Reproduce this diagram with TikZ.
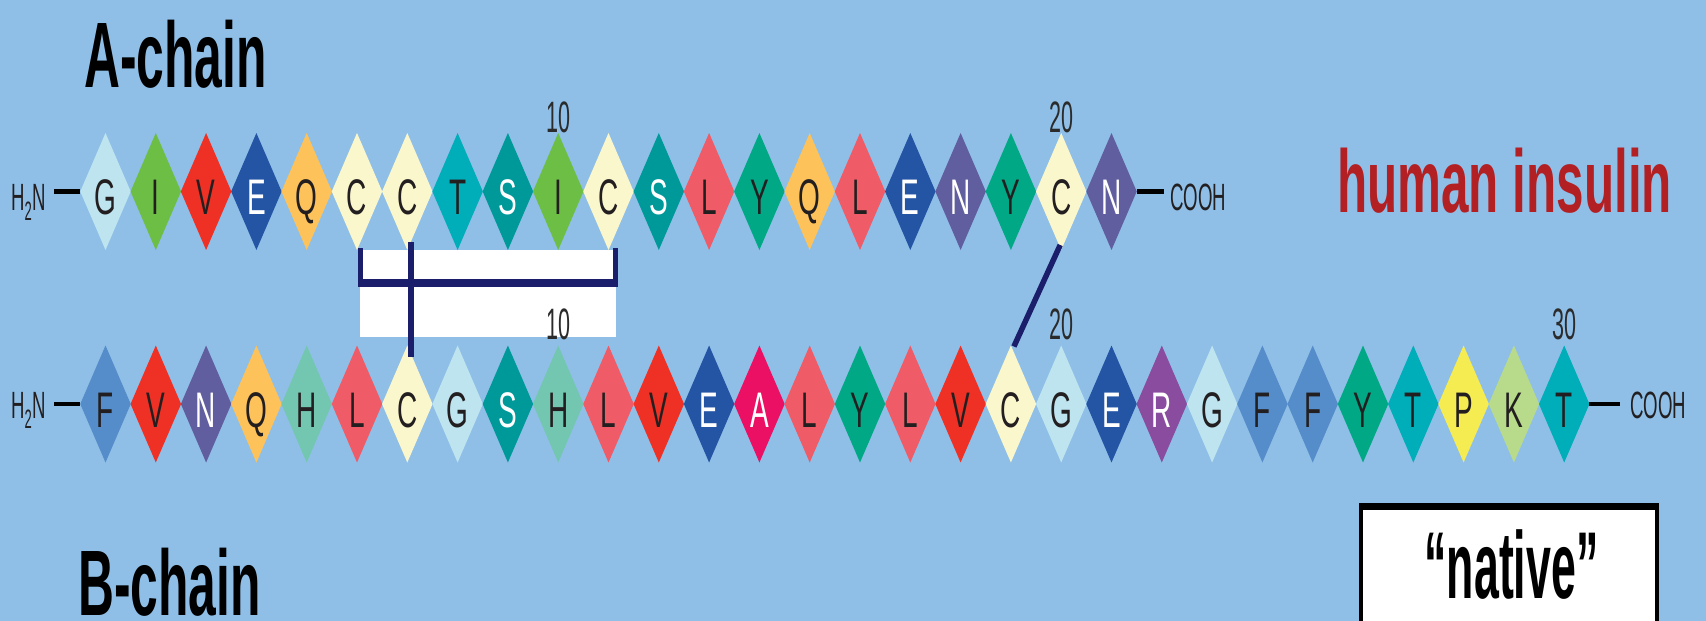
\documentclass[tikz,border=0pt]{standalone}
\usepackage{fontspec}
\usetikzlibrary{shapes.geometric,calc}
\newfontfamily\cnd[FakeStretch=0.49]{Liberation Sans}
\newfontfamily\cndr[FakeStretch=0.56]{Liberation Sans}
\newfontfamily\cndt[FakeStretch=0.47]{Liberation Sans}
\newfontfamily\cnda[FakeStretch=0.535]{Liberation Sans}
\newfontfamily\cndh[FakeStretch=0.555]{Liberation Sans}
\definecolor{bg}{HTML}{8FBFE7}
\definecolor{lb}{HTML}{BDE4EF}
\definecolor{gr}{HTML}{6DBE45}
\definecolor{rd}{HTML}{EE3124}
\definecolor{db}{HTML}{2455A5}
\definecolor{or}{HTML}{FDC25A}
\definecolor{cr}{HTML}{FBF7CD}
\definecolor{cy}{HTML}{00AEB9}
\definecolor{dt}{HTML}{00999A}
\definecolor{sa}{HTML}{EF5B66}
\definecolor{em}{HTML}{00A885}
\definecolor{pb}{HTML}{605E9E}
\definecolor{mb}{HTML}{558CCA}
\definecolor{mi}{HTML}{73C6B0}
\definecolor{mg}{HTML}{EC1064}
\definecolor{pu}{HTML}{8A4C9E}
\definecolor{ye}{HTML}{F5EC52}
\definecolor{lg}{HTML}{B7DB8A}
\definecolor{navy}{HTML}{1B1E6B}
\definecolor{titlered}{HTML}{B22024}
\definecolor{txk}{HTML}{231F20}
\definecolor{txw}{HTML}{FFFFFF}
\definecolor{numgrey}{HTML}{2B2B2B}
\begin{document}
\begin{tikzpicture}[x=1pt,y=-1pt,
  res/.style={diamond, shape aspect=0.43, minimum width=50.5pt, minimum height=117pt,
    inner sep=0pt, outer sep=0pt, font=\cndr\fontsize{50}{50}\selectfont,
    text height=46pt, text depth=0pt},
  num/.style={inner sep=0pt, text=numgrey, font=\cnd\fontsize{44}{44}\selectfont},
  term/.style={inner sep=0pt, text=txk, font=\cnd\fontsize{38}{38}\selectfont},
  termline/.style={line width=4.5pt, black},
  title/.style={inner sep=0pt, font=\cnda\bfseries\fontsize{93}{93}\selectfont},
  bondv/.style={line width=5.5pt, navy},
  bondh/.style={line width=8pt, navy}]
\useasboundingbox (0,0) rectangle (1706,621);
\fill[bg] (0,0) rectangle (1706,621);
\begin{scope}
\clip (0,0) rectangle (1706,621);
% white panel between the chains
\fill[white] (360,250) rectangle (616,337);
% A-chain
\foreach \l/\c/\t [count=\i] in {G/lb/txk, I/gr/txk, V/rd/txk, E/db/txw, Q/or/txk,
  C/cr/txk, C/cr/txk, T/cy/txk, S/dt/txw, I/gr/txk, C/cr/txk, S/dt/txw, L/sa/txk,
  Y/em/txk, Q/or/txk, L/sa/txk, E/db/txw, N/pb/txw, Y/em/txk, C/cr/txk, N/pb/txw}{
  \pgfmathsetmacro\xx{105.5+(\i-1)*50.3}
  \node[res, fill=\c, text=\t] (a\i) at (\xx,191.5) {\l};
}
% B-chain
\foreach \l/\c/\t [count=\i] in {F/mb/txk, V/rd/txk, N/pb/txw, Q/or/txk, H/mi/txk,
  L/sa/txk, C/cr/txk, G/lb/txk, S/dt/txw, H/mi/txk, L/sa/txk, V/rd/txk, E/db/txw,
  A/mg/txw, L/sa/txk, Y/em/txk, L/sa/txk, V/rd/txk, C/cr/txk, G/lb/txk, E/db/txw,
  R/pu/txw, G/lb/txk, F/mb/txk, F/mb/txk, Y/em/txk, T/cy/txk, P/ye/txk, K/lg/txk,
  T/cy/txk}{
  \pgfmathsetmacro\xx{105.5+(\i-1)*50.3}
  \node[res, fill=\c, text=\t] (b\i) at (\xx,404) {\l};
}
% position numbers
\node[num, anchor=base] (na10) at ($(a10.north)+(0,-1)$) {10};
\node[num, anchor=base] (na20) at ($(a20.north)+(0,-1)$) {20};
\node[num, anchor=base] (nb10) at ($(b10.north)+(0,-6)$) {10};
\node[num, anchor=base] (nb20) at ($(b20.north)+(0,-6)$) {20};
\node[num, anchor=base] (nb30) at ($(b30.north)+(0,-6)$) {30};
% termini
\node[term, anchor=base west] (h2nA) at (11,210) {H\textsubscript{2}N};
\node[term, anchor=base west] (h2nB) at (11,418.5) {H\textsubscript{2}N};
\node[term, anchor=base west] (cooA) at (1170,210) {COOH};
\node[term, anchor=base west] (cooB) at (1630,418.5) {COOH};
\draw[termline] (h2nA.east |- a1.west) ++(8,0) -- (a1.west);
\draw[termline] (h2nB.east |- b1.west) ++(8,0) -- (b1.west);
\draw[termline] (a21.east) -- ($(cooA.west |- a21.east)+(-6,0)$);
\draw[termline] (b30.east) -- ($(cooB.west |- b30.east)+(-10,0)$);
% disulfide bonds
\coordinate (bl) at ($(a6.south)+(3.5,33)$);
\coordinate (br) at ($(a11.south)+(7,33)$);
\draw[bondv] ($(a6.south)+(3.5,-2)$) -- (bl);
\draw[bondv] ($(a11.south)+(7,-2)$) -- (br);
\draw[bondh] ([xshift=-2.75pt]bl) -- ([xshift=2.75pt]br);
\draw[bondv] ($(a7.south)+(3.5,-8)$) -- ($(b7.north)+(3.5,11)$);
\draw[bondv] ($(a20.south)+(-1,-5)$) -- ($(b19.north)+(3,1)$);
% titles
\node[title, anchor=base west] (achain) at (84,87) {A-chain};
\node[title, anchor=base west] (bchain) at (78,615) {B-chain};
\node[inner sep=0pt, anchor=base west, text=titlered,
  font=\cndh\bfseries\fontsize{89}{89}\selectfont] (hins) at (1337,212) {human insulin};
% native box
\draw[line width=4pt, black, fill=white] (1361,505) rectangle (1657,640);
\draw[line width=7pt, black] (1359,506.5) -- (1659,506.5);
\node[inner sep=0pt, anchor=base, font=\cndt\bfseries\fontsize{95}{95}\selectfont]
  (native) at (1511.5,598) {“native”};
\end{scope}
\end{tikzpicture}
\end{document}
